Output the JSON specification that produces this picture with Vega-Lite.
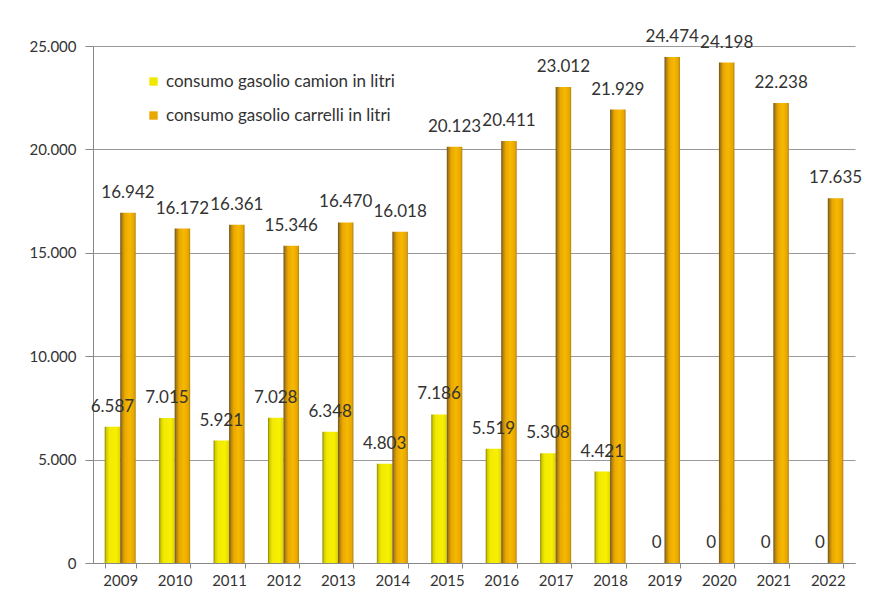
{
  "$schema": "https://vega.github.io/schema/vega-lite/v6.json",
  "width": 762,
  "height": 517,
  "autosize": {"type": "none"},
  "padding": {"left": 93, "top": 46, "right": 23, "bottom": 47},
  "background": "white",
  "config": {
    "view": {"stroke": null},
    "font": "Lato",
    "locale": {"number": {"decimal": ",", "thousands": ".", "grouping": [3], "currency": ["€", ""]}}
  },
  "data": {
    "values": [
      {"anno": "2009", "serie": "consumo gasolio camion in litri", "valore": 6587},
      {"anno": "2009", "serie": "consumo gasolio carrelli in litri", "valore": 16942},
      {"anno": "2010", "serie": "consumo gasolio camion in litri", "valore": 7015},
      {"anno": "2010", "serie": "consumo gasolio carrelli in litri", "valore": 16172},
      {"anno": "2011", "serie": "consumo gasolio camion in litri", "valore": 5921},
      {"anno": "2011", "serie": "consumo gasolio carrelli in litri", "valore": 16361},
      {"anno": "2012", "serie": "consumo gasolio camion in litri", "valore": 7028},
      {"anno": "2012", "serie": "consumo gasolio carrelli in litri", "valore": 15346},
      {"anno": "2013", "serie": "consumo gasolio camion in litri", "valore": 6348},
      {"anno": "2013", "serie": "consumo gasolio carrelli in litri", "valore": 16470},
      {"anno": "2014", "serie": "consumo gasolio camion in litri", "valore": 4803},
      {"anno": "2014", "serie": "consumo gasolio carrelli in litri", "valore": 16018},
      {"anno": "2015", "serie": "consumo gasolio camion in litri", "valore": 7186},
      {"anno": "2015", "serie": "consumo gasolio carrelli in litri", "valore": 20123},
      {"anno": "2016", "serie": "consumo gasolio camion in litri", "valore": 5519},
      {"anno": "2016", "serie": "consumo gasolio carrelli in litri", "valore": 20411},
      {"anno": "2017", "serie": "consumo gasolio camion in litri", "valore": 5308},
      {"anno": "2017", "serie": "consumo gasolio carrelli in litri", "valore": 23012},
      {"anno": "2018", "serie": "consumo gasolio camion in litri", "valore": 4421},
      {"anno": "2018", "serie": "consumo gasolio carrelli in litri", "valore": 21929},
      {"anno": "2019", "serie": "consumo gasolio camion in litri", "valore": 0},
      {"anno": "2019", "serie": "consumo gasolio carrelli in litri", "valore": 24474},
      {"anno": "2020", "serie": "consumo gasolio camion in litri", "valore": 0},
      {"anno": "2020", "serie": "consumo gasolio carrelli in litri", "valore": 24198},
      {"anno": "2021", "serie": "consumo gasolio camion in litri", "valore": 0},
      {"anno": "2021", "serie": "consumo gasolio carrelli in litri", "valore": 22238},
      {"anno": "2022", "serie": "consumo gasolio camion in litri", "valore": 0},
      {"anno": "2022", "serie": "consumo gasolio carrelli in litri", "valore": 17635}
    ]
  },
  "encoding": {
    "x": {
      "field": "anno",
      "type": "nominal",
      "scale": {"paddingInner": 0.43, "paddingOuter": 0.215},
      "axis": {
        "title": null,
        "labelAngle": 0,
        "labelFontSize": 15,
        "labelColor": "#333333",
        "labelPadding": 5,
        "tickBand": "extent",
        "tickSize": 5,
        "tickColor": "#888888",
        "domainColor": "#888888",
        "grid": false
      }
    },
    "xOffset": {
      "field": "serie",
      "type": "nominal",
      "scale": {"domain": ["consumo gasolio camion in litri", "consumo gasolio carrelli in litri"], "paddingInner": 0, "paddingOuter": 0}
    },
    "y": {
      "field": "valore",
      "type": "quantitative",
      "scale": {"domain": [0, 25000], "nice": false},
      "axis": {
        "title": null,
        "values": [0, 5000, 10000, 15000, 20000, 25000],
        "format": ",.0f",
        "labelFontSize": 15,
        "labelColor": "#333333",
        "labelPadding": 9,
        "tickSize": 8,
        "tickColor": "#888888",
        "domainColor": "#888888",
        "gridColor": "#999999",
        "gridWidth": 1
      }
    }
  },
  "layer": [
    {
      "transform": [{"filter": "datum.serie === 'consumo gasolio camion in litri'"}],
      "mark": {
        "type": "bar",
        "color": {
          "gradient": "linear",
          "x1": 0, "x2": 1, "y1": 0, "y2": 0,
          "stops": [
            {"offset": 0, "color": "#8a8400"},
            {"offset": 0.12, "color": "#d6ce00"},
            {"offset": 0.3, "color": "#f2ea00"},
            {"offset": 0.75, "color": "#f8f000"},
            {"offset": 1, "color": "#ddd400"}
          ]
        }
      }
    },
    {
      "transform": [{"filter": "datum.serie === 'consumo gasolio carrelli in litri'"}],
      "mark": {
        "type": "bar",
        "color": {
          "gradient": "linear",
          "x1": 0, "x2": 1, "y1": 0, "y2": 0,
          "stops": [
            {"offset": 0, "color": "#6e5218"},
            {"offset": 0.14, "color": "#b98610"},
            {"offset": 0.3, "color": "#eaa800"},
            {"offset": 0.6, "color": "#f6b900"},
            {"offset": 0.88, "color": "#e8a600"},
            {"offset": 1, "color": "#b08212"}
          ]
        }
      }
    },
    {
      "mark": {"type": "bar", "strokeWidth": 0},
      "encoding": {
        "y": {"datum": 0},
        "color": {
          "field": "serie",
          "type": "nominal",
          "scale": {"domain": ["consumo gasolio camion in litri", "consumo gasolio carrelli in litri"], "range": ["#f0e800", "#e8a800"]},
          "legend": {
            "title": null,
            "orient": "none",
            "legendX": 52,
            "legendY": 27,
            "symbolType": "square",
            "symbolSize": 70,
            "symbolStrokeWidth": 0,
            "labelFontSize": 17,
            "labelLimit": 0,
            "labelColor": "#333333",
            "labelOffset": 4,
            "rowPadding": 16
          }
        }
      }
    },
    {
      "mark": {"type": "text", "baseline": "bottom", "dy": -11, "fontSize": 17, "color": "#333333"},
      "encoding": {
        "text": {"field": "valore", "type": "quantitative", "format": ",.0f"}
      }
    }
  ]
}
